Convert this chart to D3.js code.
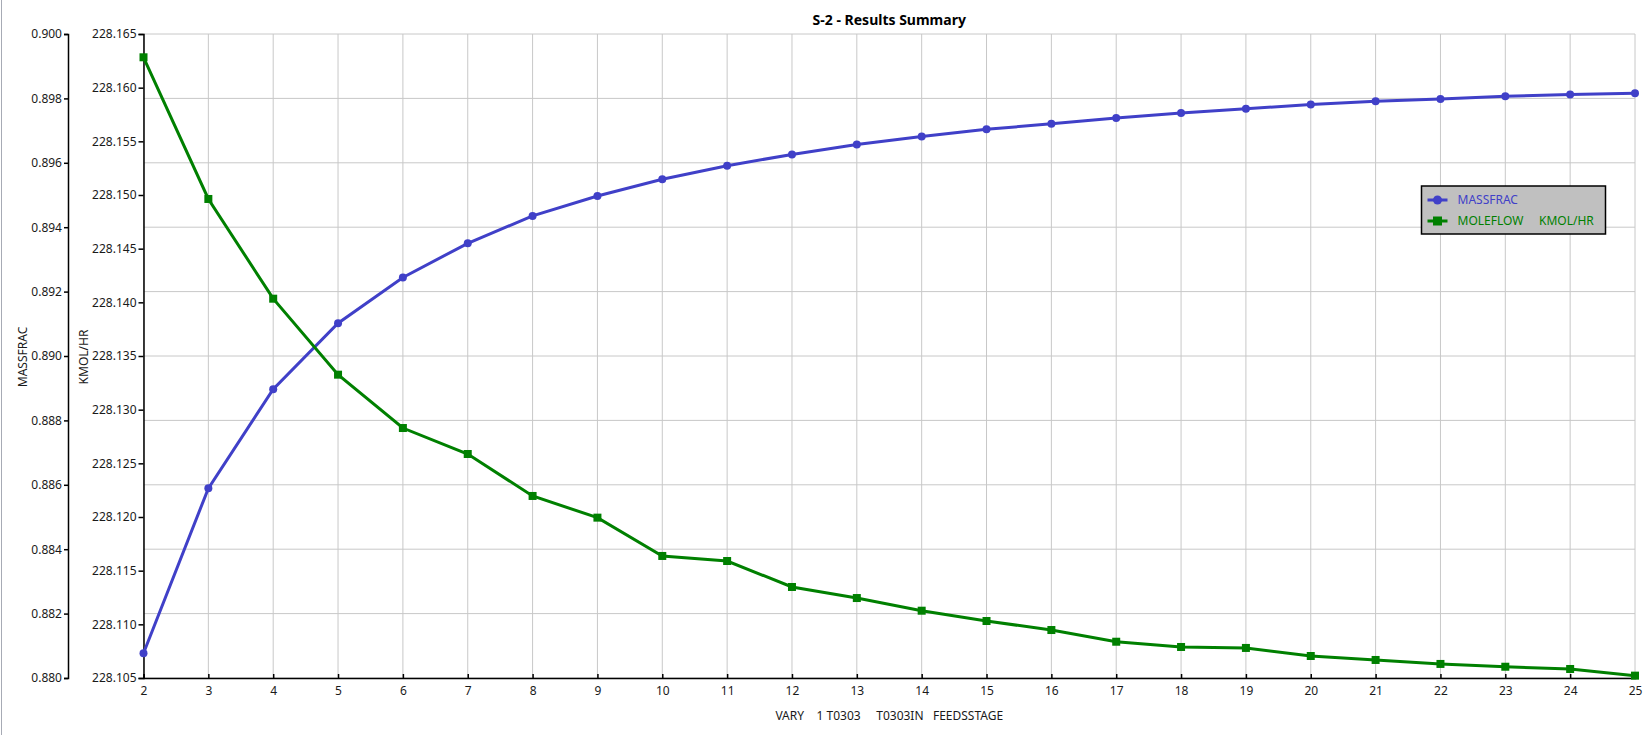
<!DOCTYPE html>
<html lang="en">
<head>
    <meta charset="UTF-8">
    <title>S-2 - Results Summary</title>
    <style>
        body { margin: 0; background: #fff; }
        svg text { font-family: "Segoe UI", "Noto Sans", "DejaVu Sans", sans-serif; }
    </style>
</head>
<body>
<script src="https://d3js.org/d3.v7.min.js"></script>
<script>
    // feed stage values (x)
    var stages = [2, 3, 4, 5, 6, 7, 8, 9, 10, 11, 12, 13, 14, 15, 16, 17, 18, 19, 20, 21, 22, 23, 24, 25];

    // MASSFRAC (left axis)
    var massfrac = [0.88077, 0.88589, 0.88897, 0.89102, 0.89244, 0.89350, 0.89435, 0.89497,
        0.89549, 0.89591, 0.89626, 0.89657, 0.89682, 0.89704, 0.89721, 0.89739,
        0.89755, 0.89768, 0.89781, 0.89791, 0.89798, 0.89807, 0.89812, 0.89816];

    // MOLEFLOW KMOL/HR (second axis)
    var moleflow = [228.16283, 228.14963, 228.14034, 228.13326, 228.12829, 228.12587, 228.12196, 228.11994,
        228.11637, 228.11590, 228.11348, 228.11245, 228.11127, 228.11031, 228.10947, 228.10838,
        228.10789, 228.10780, 228.10705, 228.10668, 228.10631, 228.10605, 228.10584, 228.10522];

    var massTicks = [0.880, 0.882, 0.884, 0.886, 0.888, 0.890, 0.892, 0.894, 0.896, 0.898, 0.900];
    var flowTicks = [228.105, 228.110, 228.115, 228.120, 228.125, 228.130, 228.135, 228.140,
        228.145, 228.150, 228.155, 228.160, 228.165];

    var W = 1647, H = 735;
    var plotL = 143.5, plotR = 1635, plotT = 34, plotB = 678;

    var svg = d3.select("body").append("svg")
        .attr("width", W)
        .attr("height", H);

    svg.append("rect").attr("width", W).attr("height", H).attr("fill", "#fff");

    // window edge on the far left
    svg.append("line")
        .attr("x1", 1.5).attr("x2", 1.5).attr("y1", 0).attr("y2", H)
        .attr("stroke", "#a7abb5");

    var x = d3.scaleLinear().domain([2, 25]).range([plotL, plotR]);
    var yL = d3.scaleLinear().domain([0.880, 0.900]).range([plotB, plotT]);
    var yR = d3.scaleLinear().domain([228.105, 228.165]).range([plotB, plotT]);

    // grid
    var grid = svg.append("g");
    grid.selectAll(".vg").data(stages).enter().append("line")
        .attr("x1", function (d) { return x(d); })
        .attr("x2", function (d) { return x(d); })
        .attr("y1", plotT).attr("y2", plotB)
        .attr("stroke", "#c8c8c8").attr("stroke-width", 1);
    grid.selectAll(".hg").data(massTicks).enter().append("line")
        .attr("x1", plotL).attr("x2", plotR)
        .attr("y1", function (d) { return yL(d); })
        .attr("y2", function (d) { return yL(d); })
        .attr("stroke", "#c8c8c8").attr("stroke-width", 1);

    // axes
    var axL = svg.append("g")
        .attr("transform", "translate(68,0)")
        .call(d3.axisLeft(yL).tickValues(massTicks).tickFormat(d3.format(".3f")).tickSize(4).tickPadding(2));
    var axR = svg.append("g")
        .attr("transform", "translate(" + plotL + ",0)")
        .call(d3.axisLeft(yR).tickValues(flowTicks).tickFormat(d3.format(".3f")).tickSize(5).tickPadding(2));
    var axX = svg.append("g")
        .attr("transform", "translate(0," + plotB + ")")
        .call(d3.axisBottom(x).tickValues(stages).tickFormat(d3.format("d")).tickSize(-4).tickPadding(12));

    [axL, axR, axX].forEach(function (a) {
        a.select(".domain").attr("stroke", "#000").attr("stroke-width", 1.5);
        a.selectAll(".tick line").attr("stroke", "#000").attr("stroke-width", 1.5);
        a.selectAll(".tick text")
            .attr("font-family", null)
            .attr("font-size", 12)
            .attr("fill", "#1a1a1a");
    });
    axX.selectAll(".tick text").attr("dy", "0.45em");

    // lines
    var lineMass = d3.line()
        .x(function (d, i) { return x(stages[i]); })
        .y(function (d) { return yL(d); });
    var lineFlow = d3.line()
        .x(function (d, i) { return x(stages[i]); })
        .y(function (d) { return yR(d); });

    var blue = "#4040c8", green = "#008000";

    svg.append("path").datum(massfrac)
        .attr("d", lineMass)
        .attr("fill", "none").attr("stroke", blue).attr("stroke-width", 3);
    svg.append("path").datum(moleflow)
        .attr("d", lineFlow)
        .attr("fill", "none").attr("stroke", green).attr("stroke-width", 3);

    svg.selectAll(".mdot").data(massfrac).enter().append("circle")
        .attr("cx", function (d, i) { return x(stages[i]); })
        .attr("cy", function (d) { return yL(d); })
        .attr("r", 4)
        .attr("fill", blue);
    svg.selectAll(".fdot").data(moleflow).enter().append("rect")
        .attr("x", function (d, i) { return x(stages[i]) - 4; })
        .attr("y", function (d) { return yR(d) - 4; })
        .attr("width", 8).attr("height", 8)
        .attr("fill", green);

    // titles
    svg.append("text")
        .attr("x", (plotL + plotR) / 2).attr("y", 25)
        .attr("text-anchor", "middle")
        .attr("font-size", 14).attr("font-weight", "bold")
        .attr("fill", "#000")
        .text("S-2 - Results Summary");

    svg.append("text")
        .attr("x", (plotL + plotR) / 2).attr("y", 720)
        .attr("text-anchor", "middle")
        .attr("font-size", 12).attr("fill", "#1a1a1a")
        .style("white-space", "pre")
        .text("VARY    1 T0303     T0303IN   FEEDSSTAGE");

    svg.append("text")
        .attr("transform", "translate(27,357) rotate(-90)")
        .attr("text-anchor", "middle")
        .attr("font-size", 12).attr("fill", "#1a1a1a")
        .text("MASSFRAC");
    svg.append("text")
        .attr("transform", "translate(88,357) rotate(-90)")
        .attr("text-anchor", "middle")
        .attr("font-size", 12).attr("fill", "#1a1a1a")
        .text("KMOL/HR");

    // legend
    var lg = svg.append("g").attr("transform", "translate(1421.5,186)");
    lg.append("rect")
        .attr("width", 184).attr("height", 48)
        .attr("fill", "#c0c0c0").attr("stroke", "#000").attr("stroke-width", 1.5);

    var legendItems = [
        { name: "MASSFRAC", color: blue, shape: "circle" },
        { name: "MOLEFLOW     KMOL/HR", color: green, shape: "square" }
    ];
    legendItems.forEach(function (it, i) {
        var cy = 14 + i * 21;
        lg.append("line")
            .attr("x1", 6).attr("x2", 26).attr("y1", cy).attr("y2", cy)
            .attr("stroke", it.color).attr("stroke-width", 3);
        if (it.shape === "circle") {
            lg.append("circle").attr("cx", 16).attr("cy", cy).attr("r", 4.5).attr("fill", it.color);
        } else {
            lg.append("rect").attr("x", 11.5).attr("y", cy - 4.5).attr("width", 9).attr("height", 9).attr("fill", it.color);
        }
        lg.append("text")
            .attr("x", 36).attr("y", cy).attr("dy", "0.35em")
            .attr("font-size", 12).attr("fill", it.color)
            .style("white-space", "pre")
            .text(it.name);
    });
</script>
</body>
</html>
